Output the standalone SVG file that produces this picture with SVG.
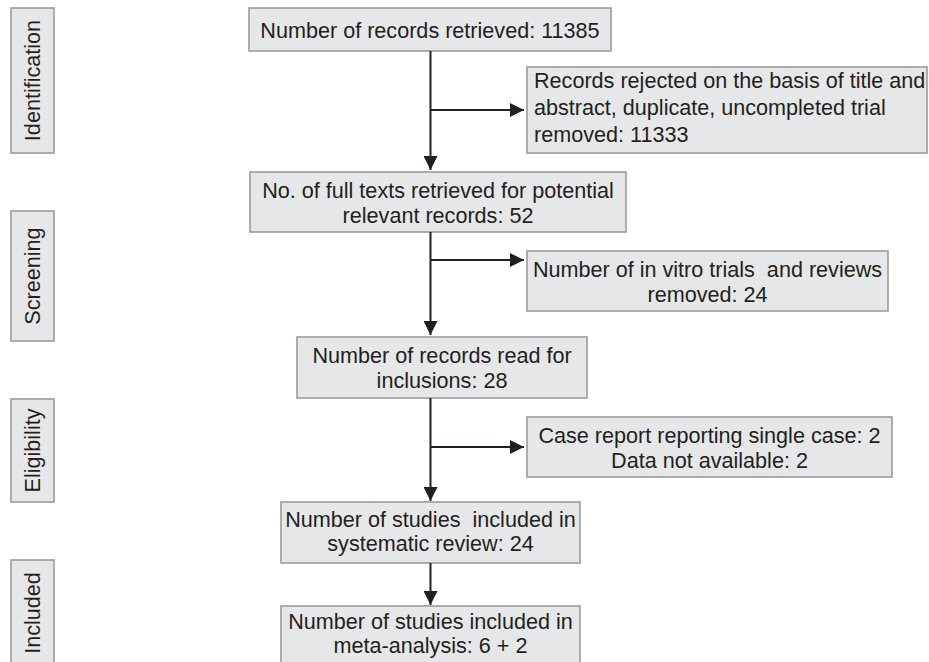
<svg xmlns="http://www.w3.org/2000/svg" width="929" height="662" viewBox="0 0 929 662">
<defs>
<style>
.box{fill:#e6e7e8;stroke:#9c9c9c;stroke-width:1.6}
.t{font-family:"Liberation Sans",Arial,sans-serif;font-size:21.6px;fill:#231f20}
.c{text-anchor:middle}
.ln{stroke:#231f20;stroke-width:2;fill:none}
</style>
<marker id="ah" markerUnits="userSpaceOnUse" markerWidth="16" markerHeight="14" refX="14" refY="7" orient="auto">
<path d="M0,0 L14,7 L0,14 Z" fill="#231f20"/>
</marker>
</defs>
<rect width="929" height="662" fill="#fff"/>

<g id="stage-identification">
<rect class="box" x="11" y="8" width="43" height="145"/>
<text class="t c" transform="translate(40,80.5) rotate(-90)">Identification</text>
</g>
<g id="stage-screening">
<rect class="box" x="11" y="211" width="43" height="130"/>
<text class="t c" transform="translate(40,276) rotate(-90)">Screening</text>
</g>
<g id="stage-eligibility">
<rect class="box" x="11" y="399" width="43" height="103"/>
<text class="t c" transform="translate(40,450.5) rotate(-90)">Eligibility</text>
</g>
<g id="stage-included">
<rect class="box" x="11" y="560" width="43" height="110"/>
<text class="t c" transform="translate(40,613) rotate(-90)">Included</text>
</g>

<g id="n-retrieved">
<rect class="box" x="249" y="8" width="362" height="43"/>
<text class="t c" x="430" y="37.5">Number of records retrieved: 11385</text>
</g>
<g id="n-rejected">
<rect class="box" x="527" y="67" width="400" height="86"/>
<text class="t" x="534" y="87.5">Records rejected on the basis of title and</text>
<text class="t" x="534" y="114.5">abstract, duplicate, uncompleted trial</text>
<text class="t" x="534" y="141.5">removed: 11333</text>
</g>
<g id="n-fulltext">
<rect class="box" x="250" y="172" width="376" height="60"/>
<text class="t c" x="438" y="197.5">No. of full texts retrieved for potential</text>
<text class="t c" x="438" y="222.5">relevant records: 52</text>
</g>
<g id="n-invitro">
<rect class="box" x="527" y="251" width="361" height="60"/>
<text class="t c" x="707.5" y="277" xml:space="preserve">Number of in vitro trials  and reviews</text>
<text class="t c" x="707.5" y="301.5">removed: 24</text>
</g>
<g id="n-read">
<rect class="box" x="297" y="337" width="290" height="61"/>
<text class="t c" x="442" y="363">Number of records read for</text>
<text class="t c" x="442" y="387.5">inclusions: 28</text>
</g>
<g id="n-case">
<rect class="box" x="527" y="417" width="365" height="60"/>
<text class="t c" x="709.5" y="443">Case report reporting single case: 2</text>
<text class="t c" x="709.5" y="467.5">Data not available: 2</text>
</g>
<g id="n-systematic">
<rect class="box" x="281" y="502" width="299" height="61"/>
<text class="t c" x="430.5" y="526.5" xml:space="preserve">Number of studies  included in</text>
<text class="t c" x="430.5" y="550.5">systematic review: 24</text>
</g>
<g id="n-meta">
<rect class="box" x="281" y="606" width="299" height="64"/>
<text class="t c" x="430.5" y="628.5">Number of studies included in</text>
<text class="t c" x="430.5" y="653">meta-analysis: 6 + 2</text>
</g>

<g id="connectors">
<path class="ln" d="M430.5,51 V170" marker-end="url(#ah)"/>
<path class="ln" d="M430.5,110 H524" marker-end="url(#ah)"/>
<path class="ln" d="M430.5,232 V335" marker-end="url(#ah)"/>
<path class="ln" d="M430.5,260 H524" marker-end="url(#ah)"/>
<path class="ln" d="M430.5,398 V501" marker-end="url(#ah)"/>
<path class="ln" d="M430.5,447 H524" marker-end="url(#ah)"/>
<path class="ln" d="M430.5,563 V605" marker-end="url(#ah)"/>
</g>
</svg>
